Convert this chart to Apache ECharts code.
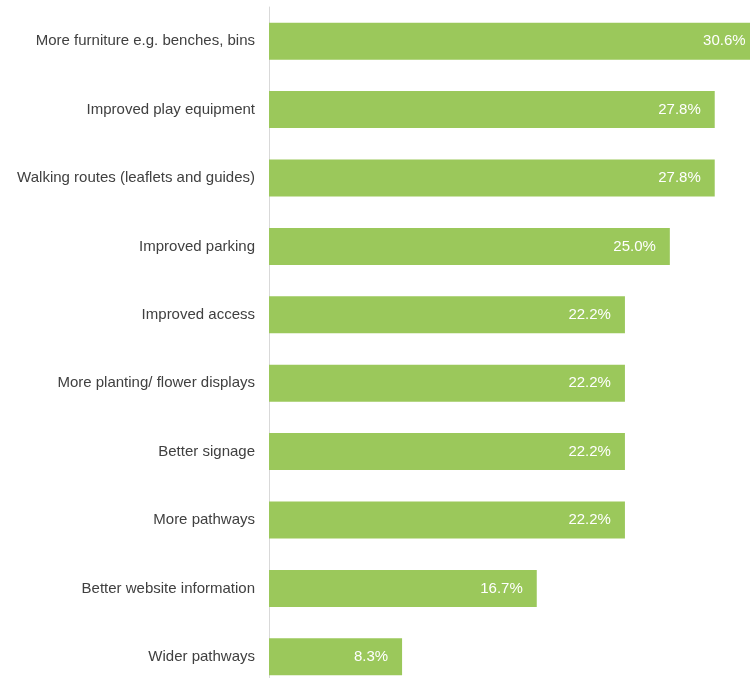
<!DOCTYPE html>
<html>
<head>
<meta charset="utf-8">
<script src="https://cdn.jsdelivr.net/npm/echarts@6/dist/echarts.min.js"></script>
<style>
  html, body { margin: 0; padding: 0; background: #fff; overflow: hidden; }
</style>
</head>
<body>
<!-- a bit taller than the window: the source image cuts the last bar -->
<div id="main" style="width: 750px;height:700px;"></div>
<script>
// categories, top to bottom
const categories = [
  'More furniture e.g. benches, bins',
  'Improved play equipment',
  'Walking routes (leaflets and guides)',
  'Improved parking',
  'Improved access',
  'More planting/ flower displays',
  'Better signage',
  'More pathways',
  'Better website information',
  'Wider pathways'
];
// percent values
const values = [30.6, 27.8, 27.8, 25.0, 22.2, 22.2, 22.2, 22.2, 16.7, 8.3];

var myChart = echarts.init(document.getElementById('main'));
let option = {
  animation: false,
  grid: {
    left: 269,   // axis line position
    top: 7,
    right: 0,
    height: 684
  },
  xAxis: {
    type: 'value',
    min: 0,
    max: 30,
    show: false
  },
  yAxis: {
    type: 'category',
    data: categories,
    inverse: true,
    axisLine: {
      lineStyle: { color: '#d9d9d9', width: 1 }
    },
    axisTick: { show: false },
    axisLabel: {
      margin: 14,
      color: '#404040',
      fontSize: 15,
      fontFamily: 'Liberation Sans'
    }
  },
  series: [{
    type: 'bar',
    data: values,
    barWidth: 37,
    clip: false, // top bar is longer than the axis max
    itemStyle: { color: '#9bc85b' },
    label: {
      show: true,
      position: 'insideRight',
      distance: 14,
      color: '#fff',
      fontSize: 15,
      fontFamily: 'Liberation Sans',
      formatter: function (p) {
        return p.value.toFixed(1) + '%';
      }
    }
  }]
};
myChart.setOption(option);
</script>
</body>
</html>
